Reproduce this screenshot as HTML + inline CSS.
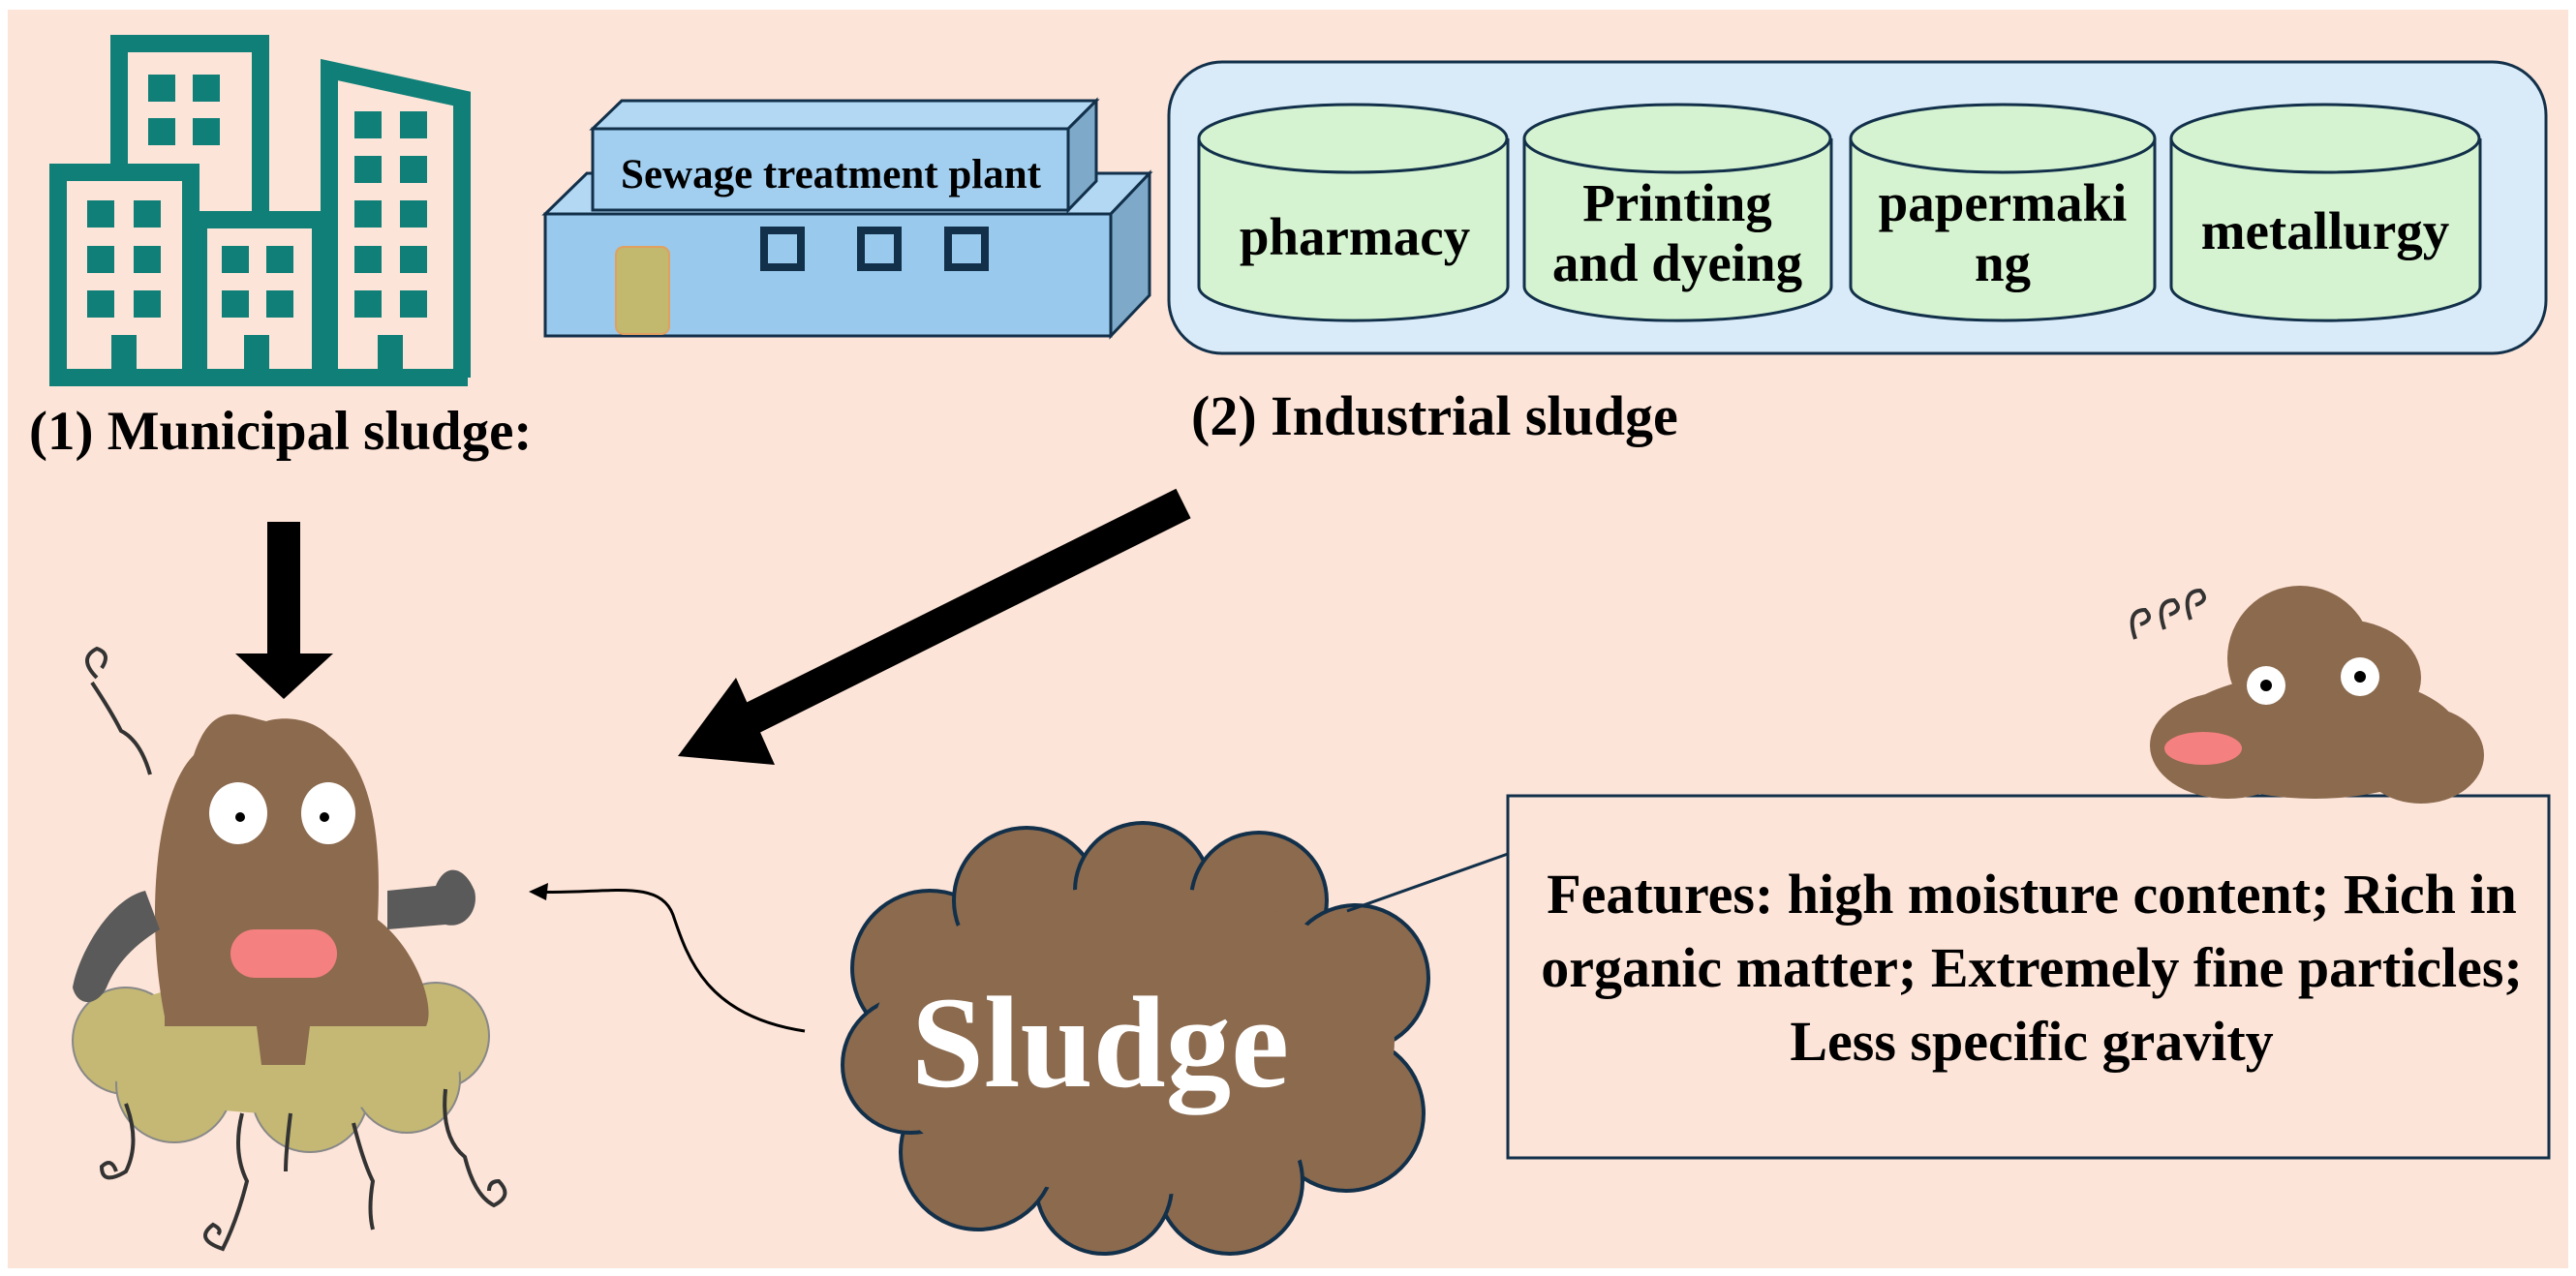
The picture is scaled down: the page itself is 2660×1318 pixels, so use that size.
<!DOCTYPE html>
<html><head><meta charset="utf-8"><style>
html,body{margin:0;padding:0;background:#fff;}
svg{display:block;}
text{font-family:"Liberation Serif",serif;font-weight:bold;}
</style></head><body>
<svg width="2660" height="1318" viewBox="0 0 2660 1318" xmlns="http://www.w3.org/2000/svg">
<rect x="8" y="10" width="2644" height="1300" fill="#fde4d8"/>
<!-- buildings -->
<g fill="none" stroke="#0f7f78" stroke-width="18">
<path d="M123 178 V45 H269 V227"/>
<rect x="60" y="178" width="137" height="212"/>
<rect x="205" y="227" width="126" height="163"/>
<path d="M340 390 V72 L477 102 V390"/>
<path d="M51 390 H483"/>
</g>
<rect x="51" y="383" width="432" height="16" fill="#0f7f78"/>
<g fill="#0f7f78">
<rect x="153" y="77" width="28" height="28"/><rect x="199" y="77" width="28" height="28"/>
<rect x="153" y="122" width="28" height="28"/><rect x="199" y="122" width="28" height="28"/>
<rect x="90" y="207" width="28" height="28"/><rect x="138" y="207" width="28" height="28"/>
<rect x="90" y="254" width="28" height="28"/><rect x="138" y="254" width="28" height="28"/>
<rect x="90" y="300" width="28" height="28"/><rect x="138" y="300" width="28" height="28"/>
<rect x="229" y="254" width="28" height="28"/><rect x="275" y="254" width="28" height="28"/>
<rect x="229" y="300" width="28" height="28"/><rect x="275" y="300" width="28" height="28"/>
<rect x="366" y="115" width="28" height="28"/><rect x="413" y="115" width="28" height="28"/>
<rect x="366" y="161" width="28" height="28"/><rect x="413" y="161" width="28" height="28"/>
<rect x="366" y="207" width="28" height="28"/><rect x="413" y="207" width="28" height="28"/>
<rect x="366" y="254" width="28" height="28"/><rect x="413" y="254" width="28" height="28"/>
<rect x="366" y="300" width="28" height="28"/><rect x="413" y="300" width="28" height="28"/>
<rect x="115" y="346" width="26" height="44"/><rect x="252" y="346" width="26" height="44"/><rect x="390" y="346" width="26" height="44"/>
</g>
<text x="30" y="464" font-size="57">(1) Municipal sludge:</text>
<!-- plant -->
<g stroke="#12304a" stroke-width="3">
<polygon points="563,221 606,179 1187,179 1147,221" fill="#b3d8f3"/>
<polygon points="1147,221 1187,179 1187,305 1147,347" fill="#7ea9c8"/>
<rect x="563" y="221" width="584" height="126" fill="#99c9ec"/>
<polygon points="612,133 642,104 1132,104 1103,133" fill="#b3d8f3"/>
<polygon points="1103,133 1132,104 1132,187 1103,217" fill="#7ea9c8"/>
<rect x="612" y="133" width="491" height="84" fill="#a2cff0"/>
</g>
<rect x="636" y="255" width="55" height="90" rx="8" fill="#c2b86e" stroke="#e0a060" stroke-width="2"/>
<g fill="none" stroke="#12304a" stroke-width="8">
<rect x="789" y="238" width="38" height="38"/><rect x="889" y="238" width="38" height="38"/><rect x="979" y="238" width="38" height="38"/>
</g>
<text x="858" y="194" font-size="43" text-anchor="middle">Sewage treatment plant</text>
<!-- industrial -->
<rect x="1207" y="64" width="1422" height="301" rx="55" fill="#d9ebf8" stroke="#12304a" stroke-width="3"/>
<g fill="#d5f3d0" stroke="#12304a" stroke-width="3">
<path d="M1238 143 V296 A159 35 0 0 0 1557 296 V143"/><ellipse cx="1397" cy="143" rx="159" ry="35"/>
<path d="M1574 143 V296 A158 35 0 0 0 1891 296 V143"/><ellipse cx="1732" cy="143" rx="158" ry="35"/>
<path d="M1911 143 V296 A157 35 0 0 0 2225 296 V143"/><ellipse cx="2068" cy="143" rx="157" ry="35"/>
<path d="M2242 143 V296 A159 35 0 0 0 2561 296 V143"/><ellipse cx="2401" cy="143" rx="159" ry="35"/>
</g>
<g font-size="55" text-anchor="middle">
<text x="1399" y="263">pharmacy</text>
<text x="1732" y="228">Printing</text><text x="1732" y="290">and dyeing</text>
<text x="2068" y="228">papermaki</text><text x="2068" y="290">ng</text>
<text x="2401" y="257">metallurgy</text>
</g>
<text x="1230" y="449" font-size="58">(2) Industrial sludge</text>
<!-- arrows -->
<rect x="276" y="539" width="34" height="140" fill="#000"/>
<polygon points="243,675 344,675 293,722" fill="#000"/>
<line x1="1222" y1="520" x2="770" y2="745" stroke="#000" stroke-width="34"/>
<polygon points="700,781 760,700 800,790" fill="#000"/>
<path d="M831 1065 C730 1050 710 990 695 945 C680 905 620 925 552 921" fill="none" stroke="#000" stroke-width="3"/>
<polygon points="546,921 566,912 564,930" fill="#000"/>
<!-- sludge cloud -->
<g fill="#8b6a4e" stroke="#12304a" stroke-width="4">
<circle cx="960" cy="1000" r="80"/><circle cx="1060" cy="930" r="75"/><circle cx="1180" cy="920" r="70"/><circle cx="1300" cy="930" r="70"/>
<circle cx="1400" cy="1010" r="75"/><circle cx="1390" cy="1150" r="80"/><circle cx="1270" cy="1220" r="75"/><circle cx="1140" cy="1225" r="70"/>
<circle cx="1010" cy="1190" r="80"/><circle cx="940" cy="1100" r="70"/>
</g>
<ellipse cx="1170" cy="1075" rx="270" ry="160" fill="#8b6a4e"/>
<text x="1136" y="1122" font-size="135" fill="#fff" text-anchor="middle">Sludge</text>
<!-- callout -->
<line x1="1391" y1="941" x2="1557" y2="882" stroke="#12304a" stroke-width="3"/>
<rect x="1557" y="822" width="1075" height="374" fill="#fde4d8" stroke="#12304a" stroke-width="3"/>
<g font-size="58" text-anchor="middle">
<text x="2098" y="943">Features: high moisture content; Rich in</text>
<text x="2098" y="1019">organic matter; Extremely fine particles;</text>
<text x="2098" y="1095">Less specific gravity</text>
</g>
<!-- small creature -->
<g fill="#8b6a4e">
<ellipse cx="2375" cy="680" rx="75" ry="75"/>
<ellipse cx="2390" cy="760" rx="150" ry="65"/>
<ellipse cx="2300" cy="770" rx="80" ry="55"/>
<ellipse cx="2500" cy="780" rx="65" ry="50"/>
<ellipse cx="2420" cy="700" rx="80" ry="60"/>
</g>
<ellipse cx="2340" cy="708" rx="20" ry="20" fill="#fff"/><circle cx="2340" cy="708" r="6" fill="#000"/>
<ellipse cx="2437" cy="699" rx="20" ry="20" fill="#fff"/><circle cx="2437" cy="699" r="6" fill="#000"/>
<ellipse cx="2275" cy="773" rx="40" ry="17" fill="#f58080"/>
<path d="M2205 660 q-10 -30 10 -30 q10 10 -5 15 M2235 650 q-10 -30 10 -30 q10 10 -5 15 M2262 640 q-10 -30 10 -30 q10 10 -5 15" fill="none" stroke="#333" stroke-width="4"/>
<!-- big creature -->
<g fill="#c4b874" stroke="#888" stroke-width="2">
<circle cx="130" cy="1075" r="55"/><circle cx="230" cy="1035" r="60"/><circle cx="360" cy="1030" r="60"/><circle cx="450" cy="1070" r="55"/>
<circle cx="180" cy="1120" r="60"/><circle cx="320" cy="1130" r="60"/><circle cx="420" cy="1115" r="55"/>
</g>
<ellipse cx="290" cy="1080" rx="200" ry="70" fill="#c4b874"/>
<g fill="#8b6a4e">
<path d="M170 1050 C150 950 160 820 200 780 C220 720 250 740 275 745 C290 740 320 740 340 760 C380 790 395 850 390 950 C430 980 450 1040 440 1060 L320 1060 L315 1100 L270 1100 L265 1060 L170 1060 Z"/>
</g>
<g fill="#5a5a5a">
<path d="M150 920 C110 930 80 990 75 1020 C80 1040 100 1040 110 1020 C120 995 140 975 165 960 Z"/>
<path d="M400 920 L450 915 C460 890 480 895 490 920 C495 940 480 960 460 955 L400 960 Z"/>
</g>
<ellipse cx="246" cy="840" rx="30" ry="32" fill="#fff"/><circle cx="248" cy="844" r="5" fill="#000"/>
<ellipse cx="339" cy="840" rx="28" ry="32" fill="#fff"/><circle cx="335" cy="844" r="5" fill="#000"/>
<rect x="238" y="960" width="110" height="50" rx="25" fill="#f58080"/>
<g fill="none" stroke="#333" stroke-width="4">
<path d="M100 700 q-20 -20 0 -30 q15 5 5 20 M95 705 q20 30 30 50 q20 10 30 45"/>
<path d="M130 1140 q15 40 0 70 q-25 15 -25 -5 q10 -10 15 5"/>
<path d="M250 1150 q-10 40 5 70 q-10 40 -25 70 q-30 -10 -10 -25 q10 5 5 10"/>
<path d="M300 1150 q-5 40 -5 60"/>
<path d="M365 1160 q10 40 20 60 q-5 30 0 50"/>
<path d="M460 1125 q-5 50 20 70 q10 40 30 50 q20 -10 5 -25 q-10 0 -10 10"/>
</g>
</svg>
</body></html>
